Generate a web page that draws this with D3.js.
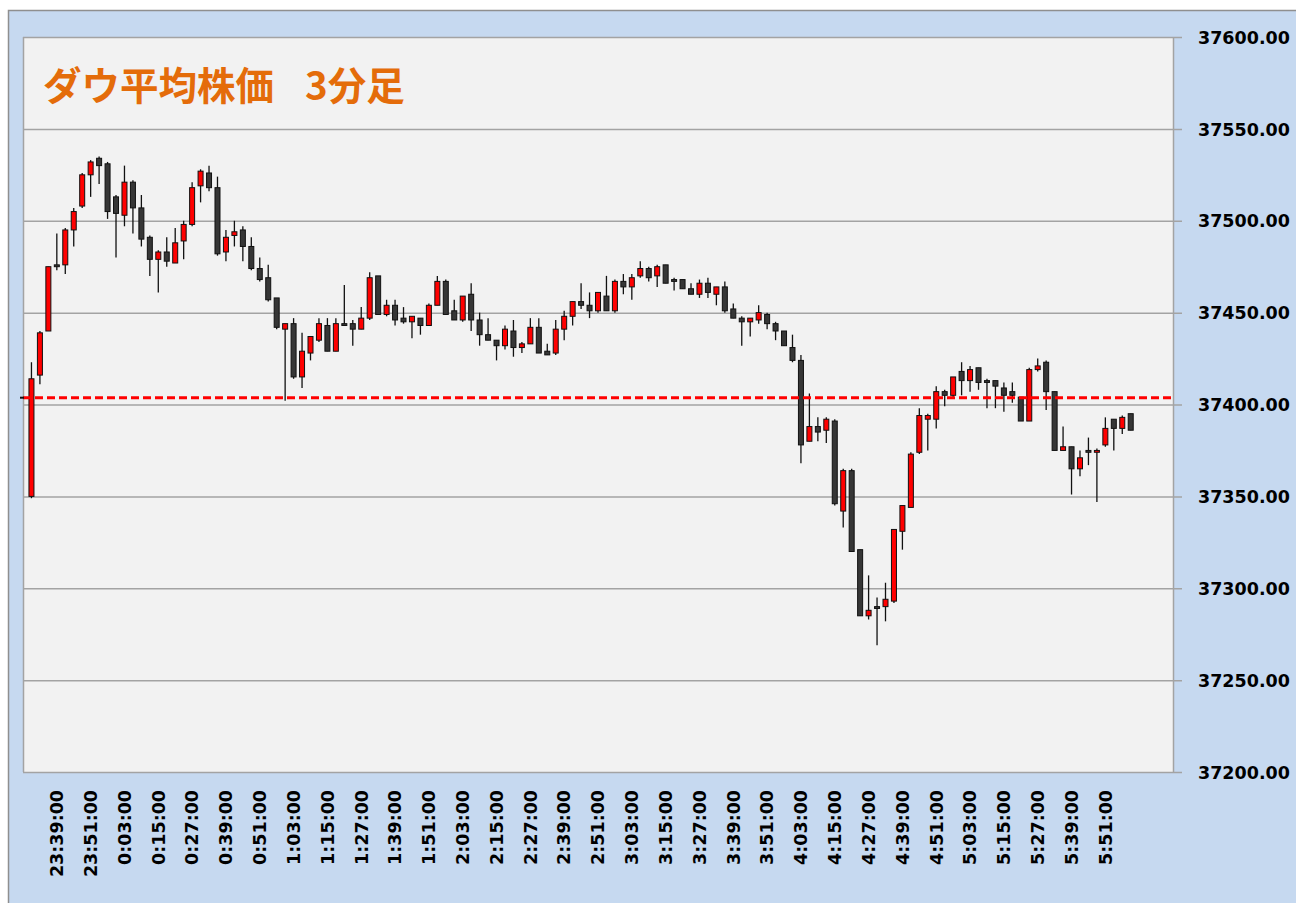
<!DOCTYPE html>
<html>
<head>
<meta charset="utf-8">
<script src="https://cdnjs.cloudflare.com/ajax/libs/d3/7.8.5/d3.min.js"></script>
<style>
  body { margin: 0; background: #ffffff; }
  svg { display: block; }
</style>
</head>
<body>
<script>
// 3 minute bars, 23:30 -> 6:00
var times = [
  "23:30:00","23:33:00","23:36:00","23:39:00","23:42:00","23:45:00","23:48:00","23:51:00","23:54:00","23:57:00",
  "0:00:00","0:03:00","0:06:00","0:09:00","0:12:00","0:15:00","0:18:00","0:21:00","0:24:00","0:27:00",
  "0:30:00","0:33:00","0:36:00","0:39:00","0:42:00","0:45:00","0:48:00","0:51:00","0:54:00","0:57:00",
  "1:00:00","1:03:00","1:06:00","1:09:00","1:12:00","1:15:00","1:18:00","1:21:00","1:24:00","1:27:00",
  "1:30:00","1:33:00","1:36:00","1:39:00","1:42:00","1:45:00","1:48:00","1:51:00","1:54:00","1:57:00",
  "2:00:00","2:03:00","2:06:00","2:09:00","2:12:00","2:15:00","2:18:00","2:21:00","2:24:00","2:27:00",
  "2:30:00","2:33:00","2:36:00","2:39:00","2:42:00","2:45:00","2:48:00","2:51:00","2:54:00","2:57:00",
  "3:00:00","3:03:00","3:06:00","3:09:00","3:12:00","3:15:00","3:18:00","3:21:00","3:24:00","3:27:00",
  "3:30:00","3:33:00","3:36:00","3:39:00","3:42:00","3:45:00","3:48:00","3:51:00","3:54:00","3:57:00",
  "4:00:00","4:03:00","4:06:00","4:09:00","4:12:00","4:15:00","4:18:00","4:21:00","4:24:00","4:27:00",
  "4:30:00","4:33:00","4:36:00","4:39:00","4:42:00","4:45:00","4:48:00","4:51:00","4:54:00","4:57:00",
  "5:00:00","5:03:00","5:06:00","5:09:00","5:12:00","5:15:00","5:18:00","5:21:00","5:24:00","5:27:00",
  "5:30:00","5:33:00","5:36:00","5:39:00","5:42:00","5:45:00","5:48:00","5:51:00","5:54:00","5:57:00",
  "6:00:00"
];

var open = [
  37350,37416,37440,37476,37476,37495,37508,37525,37534,37531,
  37513,37503,37521,37507,37491,37479,37483,37477,37489,37498,
  37519,37526,37518,37483,37492,37495,37486,37474,37469,37458,
  37441,37444,37415,37428,37435,37443,37429,37444,37444,37441,
  37447,37470,37449,37454,37447,37445,37447,37443,37454,37467,
  37451,37446,37460,37446,37438,37435,37432,37440,37431,37433,
  37442,37429,37428,37441,37448,37456,37454,37451,37459,37451,
  37467,37464,37470,37474,37470,37476,37468,37468,37463,37460,
  37466,37460,37464,37452,37447,37445,37446,37449,37444,37440,
  37431,37424,37380,37388,37386,37391,37342,37364,37321,37285,
  37290,37290,37293,37331,37344,37374,37392,37392,37407,37405,
  37418,37413,37420,37413,37413,37409,37407,37404,37391,37419,
  37423,37407,37375,37377,37365,37375,37374,37378,37392,37387,
  37395
];
var high = [
  37423,37440,37475,37493,37496,37507,37526,37533,37535,37532,
  37514,37530,37522,37514,37492,37484,37491,37496,37500,37521,
  37528,37530,37524,37495,37500,37497,37491,37480,37476,37458,
  37444,37447,37439,37437,37447,37447,37447,37465,37446,37453,
  37472,37470,37457,37457,37453,37448,37447,37455,37470,37468,
  37457,37459,37466,37450,37447,37435,37443,37446,37434,37447,
  37447,37433,37446,37451,37456,37466,37461,37461,37470,37468,
  37471,37471,37478,37475,37476,37476,37469,37468,37466,37468,
  37469,37464,37467,37455,37448,37447,37454,37450,37445,37440,
  37438,37427,37406,37393,37393,37392,37365,37365,37321,37307,
  37295,37303,37332,37345,37374,37398,37395,37410,37408,37415,
  37423,37421,37420,37414,37413,37412,37412,37404,37420,37425,
  37424,37407,37388,37377,37375,37382,37376,37393,37392,37394,
  37395
];
var low = [
  37349,37411,37440,37473,37471,37486,37507,37513,37520,37501,
  37480,37497,37493,37486,37470,37461,37475,37477,37479,37497,
  37510,37516,37481,37478,37486,37478,37473,37467,37456,37441,
  37402,37414,37409,37424,37434,37429,37429,37443,37432,37441,
  37446,37449,37448,37443,37444,37436,37438,37443,37454,37449,
  37446,37445,37440,37432,37435,37424,37430,37426,37428,37433,
  37428,37427,37427,37435,37443,37452,37447,37450,37451,37450,
  37460,37457,37469,37467,37464,37466,37462,37463,37460,37458,
  37458,37454,37450,37447,37432,37437,37444,37441,37435,37432,
  37423,37368,37380,37380,37379,37345,37333,37320,37285,37283,
  37269,37282,37292,37321,37344,37373,37375,37387,37399,37403,
  37405,37407,37408,37398,37398,37396,37401,37391,37391,37418,
  37397,37375,37375,37351,37361,37367,37347,37377,37375,37384,
  37386
];
var close = [
  37414,37439,37475,37475,37495,37505,37525,37532,37530,37505,
  37504,37521,37507,37490,37479,37483,37478,37488,37498,37518,
  37527,37518,37482,37491,37494,37486,37474,37468,37457,37442,
  37444,37415,37429,37437,37444,37429,37444,37443,37441,37447,
  37469,37449,37454,37446,37445,37448,37443,37454,37467,37449,
  37446,37459,37446,37438,37435,37432,37441,37431,37433,37442,
  37428,37427,37441,37448,37456,37454,37451,37461,37451,37467,
  37464,37469,37474,37469,37475,37466,37467,37463,37460,37466,
  37461,37464,37451,37447,37445,37447,37450,37444,37440,37432,
  37424,37378,37388,37385,37392,37346,37364,37320,37285,37288,
  37289,37294,37332,37345,37373,37394,37394,37407,37405,37415,
  37413,37419,37412,37412,37410,37405,37405,37391,37419,37421,
  37407,37375,37377,37365,37371,37374,37375,37387,37387,37393,
  37386
];

var refLine = 37403.7;
var yTicks = [37200, 37250, 37300, 37350, 37400, 37450, 37500, 37550, 37600];
var xTickLabels = [
  "23:39:00","23:51:00","0:03:00","0:15:00","0:27:00","0:39:00","0:51:00","1:03:00",
  "1:15:00","1:27:00","1:39:00","1:51:00","2:03:00","2:15:00","2:27:00","2:39:00",
  "2:51:00","3:03:00","3:15:00","3:27:00","3:39:00","3:51:00","4:03:00","4:15:00",
  "4:27:00","4:39:00","4:51:00","5:03:00","5:15:00","5:27:00","5:39:00","5:51:00"
];
var titleParts = ["ダウ平均株価", "3分足"];

var width = 1296, height = 903;
var plot = {left: 23, top: 37, right: 1173, bottom: 772};
var upColor = "#ff0000", downColor = "#363636";

var candles = open.map(function(o, i) {
  return {i: i, t: times[i], o: o, h: high[i], l: low[i], c: close[i]};
});

var svg = d3.select("body").append("svg")
  .attr("width", width)
  .attr("height", height);

// outer panel
svg.append("rect")
  .attr("x", 8.5).attr("y", 10.5)
  .attr("width", width).attr("height", height)
  .style("fill", "#c6d9f0")
  .style("stroke", "#8f8f8f")
  .style("stroke-width", 1.5);

svg.append("rect")
  .attr("x", plot.left).attr("y", plot.top)
  .attr("width", plot.right - plot.left)
  .attr("height", plot.bottom - plot.top)
  .style("fill", "#f2f2f2");

var x = d3.scaleLinear()
  .domain([-1, 135])
  .range([plot.left, plot.right]);

var y = d3.scaleLinear()
  .domain([37200, 37600])
  .range([plot.bottom, plot.top]);

// grid + y labels
var yAxis = d3.axisRight(y)
  .tickValues(yTicks)
  .tickSize(plot.right - plot.left + 9)
  .tickFormat(d3.format(".2f"));

var ya = svg.append("g")
  .attr("transform", "translate(" + plot.left + ",0)")
  .call(yAxis);
ya.select(".domain").remove();
ya.selectAll(".tick line")
  .style("stroke", "#a3a3a3")
  .style("stroke-width", 1.5);
ya.selectAll(".tick text")
  .attr("x", 1198 - plot.left)
  .attr("dy", "0.35em")
  .style("font-family", "'DejaVu Sans', sans-serif")
  .style("font-weight", "bold")
  .style("font-size", "17.5px")
  .style("fill", "#000");

// plot frame (left / right)
svg.append("line")
  .attr("x1", plot.left + 0.5).attr("x2", plot.left + 0.5)
  .attr("y1", plot.top).attr("y2", plot.bottom)
  .style("stroke", "#a3a3a3").style("stroke-width", 1.5);
svg.append("line")
  .attr("x1", plot.right + 0.5).attr("x2", plot.right + 0.5)
  .attr("y1", plot.top).attr("y2", plot.bottom)
  .style("stroke", "#a3a3a3").style("stroke-width", 1.5);

// x labels
var xa = svg.append("g");
xa.selectAll("text")
  .data(xTickLabels)
  .enter()
  .append("text")
  .attr("transform", function(d) {
    return "translate(" + x(times.indexOf(d)) + ",790) rotate(-90)";
  })
  .attr("text-anchor", "end")
  .attr("dy", "0.36em")
  .style("font-family", "'DejaVu Sans', sans-serif")
  .style("font-weight", "bold")
  .style("font-size", "17.5px")
  .style("fill", "#000")
  .text(function(d) { return d; });

// candles
var bodyW = 5;
var g = svg.append("g");

g.selectAll("line.wick")
  .data(candles)
  .enter()
  .append("line")
  .attr("class", "wick")
  .attr("x1", function(d) { return x(d.i); })
  .attr("x2", function(d) { return x(d.i); })
  .attr("y1", function(d) { return y(d.h); })
  .attr("y2", function(d) { return y(d.l); })
  .style("stroke", "#111")
  .style("stroke-width", 1.3);

g.selectAll("rect.body")
  .data(candles)
  .enter()
  .append("rect")
  .attr("class", "body")
  .attr("x", function(d) { return x(d.i) - bodyW / 2; })
  .attr("y", function(d) { return y(Math.max(d.o, d.c)); })
  .attr("width", bodyW)
  .attr("height", function(d) { return Math.max(1.5, Math.abs(y(d.o) - y(d.c))); })
  .style("fill", function(d) { return d.c > d.o ? upColor : downColor; })
  .style("stroke", "#111")
  .style("stroke-width", 1);

// reference line
svg.append("line")
  .attr("x1", plot.left).attr("x2", plot.right + 2)
  .attr("y1", y(refLine)).attr("y2", y(refLine))
  .style("stroke", "#ff0000")
  .style("stroke-width", 3)
  .style("stroke-dasharray", "8,4");
svg.append("line")
  .attr("x1", plot.left - 3).attr("x2", plot.left + 1)
  .attr("y1", y(refLine)).attr("y2", y(refLine))
  .style("stroke", "#111")
  .style("stroke-width", 2);

// title
var title = svg.append("text")
  .attr("y", 100)
  .style("font-family", "'Noto Sans CJK JP', sans-serif")
  .style("font-weight", "bold")
  .style("font-size", "38.5px")
  .style("fill", "#e46c0a");
title.append("tspan").attr("x", 43).text(titleParts[0] + " ");
title.append("tspan").attr("x", 305).text(titleParts[1]);
</script>
</body>
</html>
